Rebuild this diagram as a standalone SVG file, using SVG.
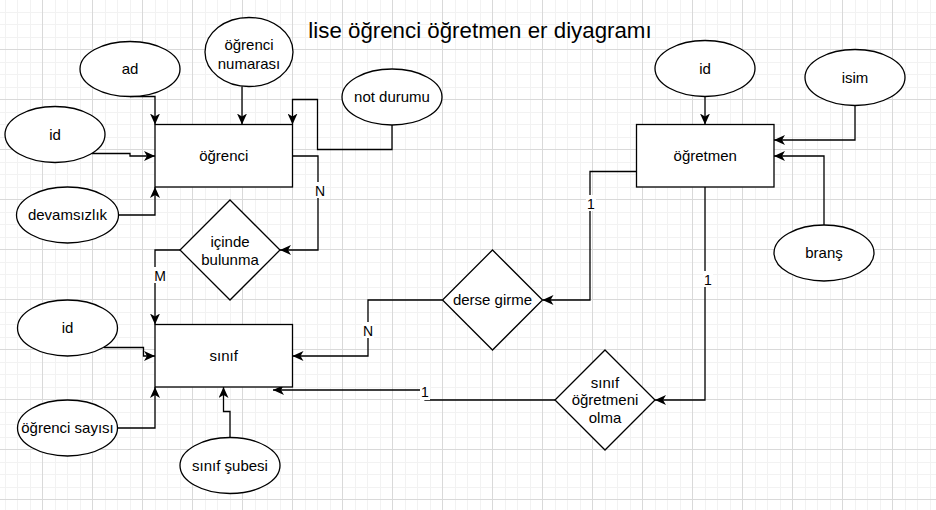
<svg xmlns="http://www.w3.org/2000/svg" width="936" height="510" viewBox="0 0 936 510">
<defs>
<pattern id="grid" patternUnits="userSpaceOnUse" x="42" y="49" width="50" height="50">
<path d="M13.5,0V50M25.5,0V50M38.5,0V50M0,13.5H50M0,25.5H50M0,38.5H50" stroke="#f2f2f2" stroke-width="1" fill="none"/>
<path d="M0.5,0V50M0,0.5H50" stroke="#d9d9d9" stroke-width="1" fill="none"/>
</pattern>
<marker id="arr" markerUnits="userSpaceOnUse" viewBox="0 0 11 10" markerWidth="11" markerHeight="10" refX="11" refY="5" orient="auto">
<path d="M11,5 L0,0 L3,5 L0,10 Z" fill="#000"/>
</marker>
<style>
.n{fill:#fff;stroke:#000;stroke-width:1.3}
.e{fill:none;stroke:#000;stroke-width:1.3;marker-end:url(#arr)}
.t{font-family:"Liberation Sans",Arial,sans-serif;font-size:15px;fill:#000;text-anchor:middle}
.l{font-family:"Liberation Sans",Arial,sans-serif;font-size:14px;fill:#000;text-anchor:middle}
.lb{fill:#fff}
</style>
</defs>
<rect width="936" height="510" fill="#fff"/>
<rect width="936" height="510" fill="url(#grid)"/>
<text x="480" y="38" font-family="'Liberation Sans',Arial,sans-serif" font-size="22.3" text-anchor="middle" fill="#000">lise öğrenci öğretmen er diyagramı</text>
<g id="connectors">
<path class="e" d="M130,96.5H155V124.5"/>
<path class="e" d="M242,86.5V124.5"/>
<path class="e" d="M392,125V149.5H317.5V99.5H292.5V124.5"/>
<path class="e" d="M92,153.5H130V156H155"/>
<path class="e" d="M118.5,215H155V187"/>
<path class="e" d="M292.5,156H318V250H280"/>
<path class="e" d="M180,250H155V324.5"/>
<path class="e" d="M104,347.5H143.5V356H155"/>
<path class="e" d="M117.5,428H155V387"/>
<path class="e" d="M230,437.5V411.5H223.5V387"/>
<path class="e" d="M636.5,171.5H590V300H542.5"/>
<path class="e" d="M442.5,300H368V356H292.5"/>
<path class="e" d="M705,187V400H655"/>
<path class="e" d="M555,400H425V390H273"/>
<path class="e" d="M705,96.5V124.5"/>
<path class="e" d="M855,105.5V140H774"/>
<path class="e" d="M824,225V156H774"/>
<rect class="lb" x="314" y="182" width="12" height="16"/><text class="l" x="320" y="196">N</text>
<rect class="lb" x="153" y="267" width="14" height="16"/><text class="l" x="160" y="281">M</text>
<rect class="lb" x="586" y="195" width="10" height="16"/><text class="l" x="591" y="209">1</text>
<rect class="lb" x="362" y="322" width="12" height="16"/><text class="l" x="368" y="336">N</text>
<rect class="lb" x="703" y="271" width="10" height="16"/><text class="l" x="708" y="285">1</text>
<rect class="lb" x="420" y="384" width="10" height="16"/><text class="l" x="425" y="397">1</text>
</g>
<g id="ogrenci"><rect class="n" x="155" y="124.5" width="137.5" height="62.5"/><text class="t" x="223.75" y="161">öğrenci</text></g>
<g id="sinif"><rect class="n" x="155" y="324.5" width="137.5" height="62.5"/><text class="t" x="223.75" y="361">sınıf</text></g>
<g id="ogretmen"><rect class="n" x="636.5" y="124.5" width="137.5" height="62.5"/><text class="t" x="705.25" y="161">öğretmen</text></g>
<g id="ad"><ellipse class="n" cx="130" cy="69" rx="50" ry="27.5"/><text class="t" x="130" y="74">ad</text></g>
<g id="ogrenci-numarasi"><ellipse class="n" cx="249" cy="52" rx="44" ry="34.5"/><text class="t" x="249" y="50">öğrenci</text><text class="t" x="249" y="68.5">numarası</text></g>
<g id="not-durumu"><ellipse class="n" cx="392" cy="97" rx="50" ry="28"/><text class="t" x="392" y="102">not durumu</text></g>
<g id="ogrenci-id"><ellipse class="n" cx="55" cy="134.5" rx="50" ry="28"/><text class="t" x="55" y="139.5">id</text></g>
<g id="devamsizlik"><ellipse class="n" cx="67.5" cy="215" rx="51" ry="28"/><text class="t" x="67.5" y="220">devamsızlık</text></g>
<g id="sinif-id"><ellipse class="n" cx="67.5" cy="328" rx="50" ry="28"/><text class="t" x="67.5" y="333">id</text></g>
<g id="ogrenci-sayisi"><ellipse class="n" cx="67.5" cy="428" rx="50" ry="28"/><text class="t" x="67.5" y="433">öğrenci sayısı</text></g>
<g id="sinif-subesi"><ellipse class="n" cx="230" cy="465.5" rx="50" ry="28"/><text class="t" x="230" y="470.5">sınıf şubesi</text></g>
<g id="ogretmen-id"><ellipse class="n" cx="705" cy="68.5" rx="50" ry="28"/><text class="t" x="705" y="73.5">id</text></g>
<g id="isim"><ellipse class="n" cx="855" cy="77.5" rx="50" ry="28"/><text class="t" x="855" y="82.5">isim</text></g>
<g id="brans"><ellipse class="n" cx="824" cy="253" rx="50" ry="28"/><text class="t" x="824" y="258">branş</text></g>
<g id="icinde-bulunma"><path class="n" d="M230,200L280,250L230,300L180,250Z"/><text class="t" x="230" y="247">içinde</text><text class="t" x="230" y="264.5">bulunma</text></g>
<g id="derse-girme"><path class="n" d="M492.5,250L542.5,300L492.5,350L442.5,300Z"/><text class="t" x="492.5" y="305">derse girme</text></g>
<g id="sinif-ogretmeni-olma"><path class="n" d="M605,350L655,400L605,450L555,400Z"/><text class="t" x="605" y="387.5">sınıf</text><text class="t" x="605" y="405">öğretmeni</text><text class="t" x="605" y="422.5">olma</text></g>
</svg>
